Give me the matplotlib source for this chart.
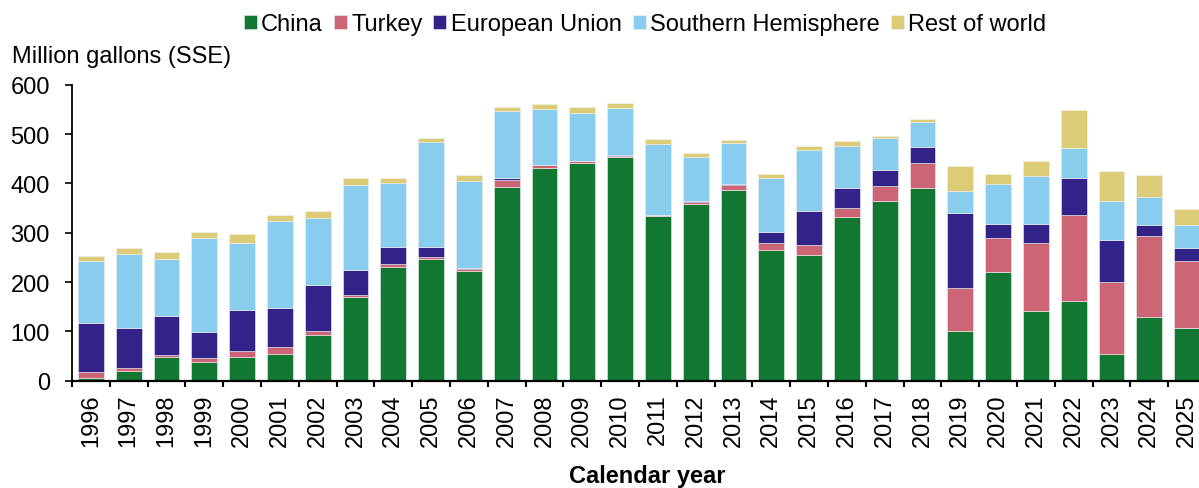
import matplotlib.pyplot as plt
import numpy as np

plt.rcParams['font.family'] = ['Liberation Sans', 'DejaVu Sans']

years = [str(y) for y in range(1996, 2026)]
china = [5, 20, 48, 37, 49, 55, 93, 170, 231, 247, 223, 393, 431, 441, 453,
         334, 358, 387, 264, 254, 332, 364, 391, 101, 221, 142, 161, 55, 129, 107]
turkey = [13, 6, 4, 9, 11, 13, 7, 4, 5, 4, 3, 14, 6, 4, 3,
          1, 4, 9, 15, 22, 19, 30, 50, 86, 69, 137, 174, 145, 164, 136]
eu = [99, 81, 79, 53, 84, 79, 93, 51, 35, 20, 2, 3, 1, 1, 1,
      1, 2, 3, 22, 68, 40, 34, 32, 153, 28, 39, 75, 86, 23, 25]
south = [125, 150, 116, 190, 136, 177, 137, 172, 130, 212, 177, 137, 112, 97, 95,
         144, 90, 83, 110, 124, 85, 63, 51, 45, 81, 97, 61, 79, 57, 48]
rest = [10, 13, 13, 12, 18, 12, 13, 13, 10, 9, 11, 8, 11, 11, 11,
        9, 7, 6, 7, 7, 9, 6, 7, 50, 19, 31, 78, 61, 44, 33]

series = [('China', china, '#117733'),
          ('Turkey', turkey, '#CC6677'),
          ('European Union', eu, '#332288'),
          ('Southern Hemisphere', south, '#88CCEE'),
          ('Rest of world', rest, '#DDCC77')]

fs = 17

fig = plt.figure(figsize=(11.99, 4.89), dpi=100)
ax = fig.add_axes([72 / 1199, 107.3 / 489, 1134 / 1199, 296 / 489])

x = np.arange(len(years))
bottom = np.zeros(len(years))
for name, vals, col in series:
    ax.bar(x, vals, width=0.68, bottom=bottom, color=col, label=name,
           edgecolor='#f0f0f0', linewidth=0.4)
    bottom += np.array(vals)

ax.set_xlim(-0.5, len(years) - 0.5)
ax.set_ylim(0, 600)
ax.set_yticks(range(0, 601, 100))
ax.set_xticks(x)
ax.set_xticklabels(years, rotation=90, fontsize=fs)
ax.set_xticks(np.arange(-0.5, len(years), 1), minor=True)
ax.tick_params(axis='x', which='major', length=0, pad=9)
ax.tick_params(axis='x', which='minor', length=4, width=1.5, direction='out')
ax.tick_params(axis='y', labelsize=fs, length=5, width=1.2, pad=11)

for s in ['top', 'right']:
    ax.spines[s].set_visible(False)
ax.spines['bottom'].set_linewidth(1.6)
ax.spines['left'].set_linewidth(1.3)

fig.text(12 / 1199, 1 - 57 / 489, 'Million gallons (SSE)', fontsize=fs,
         va='center', ha='left')
fig.text(647 / 1199, 1 - 483 / 489, 'Calendar year', fontsize=fs,
         fontweight='bold', ha='center', va='baseline')

ax.legend(loc='center', bbox_to_anchor=(645 / 1199, 1 - 25 / 489),
          bbox_transform=fig.transFigure, ncol=5, frameon=False,
          fontsize=fs, handlelength=0.55, handleheight=0.55,
          handletextpad=0.2, columnspacing=0.45, borderaxespad=0)

fig.savefig('out.png', dpi=100)
